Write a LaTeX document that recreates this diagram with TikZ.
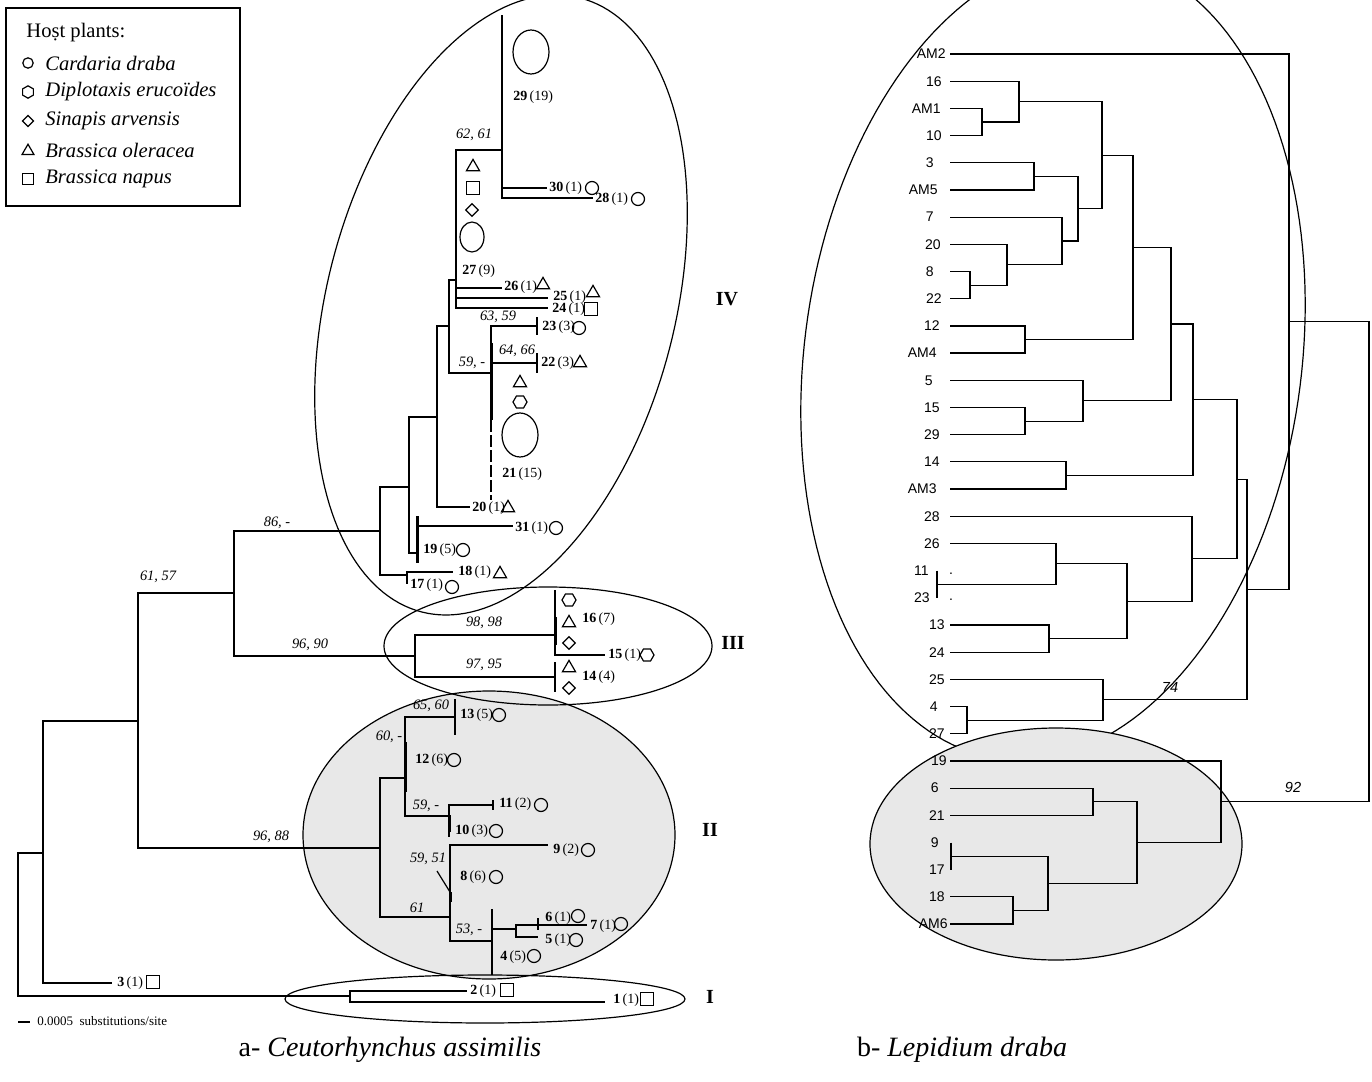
\documentclass[tikz,border=0pt]{standalone}
\usepackage{fontspec}
\setmainfont{Liberation Serif}
\newfontfamily\arialfont{Liberation Sans}
\usetikzlibrary{shapes.geometric}
\definecolor{cladegrey}{RGB}{232,232,232}
\newcommand{\hap}[2]{\textbf{#1}\,(#2)}

\begin{document}
\begin{tikzpicture}[
    x=0.5pt, y=-0.5pt,
    br/.style={line width=0.8pt},
    thk/.style={line width=1.5pt},
    rbr/.style={line width=0.6pt},
    lab/.style={anchor=west, inner sep=0pt, font=\fontsize{7}{8}\selectfont},
    boot/.style={inner sep=0pt, font=\fontsize{7.2}{8}\selectfont\itshape},
    clade/.style={inner sep=0pt, font=\fontsize{10}{12}\selectfont\bfseries},
    leaf/.style={anchor=east, inner sep=0pt, font=\arialfont\fontsize{7}{8}\selectfont},
    rboot/.style={inner sep=0pt, font=\arialfont\itshape\fontsize{7.3}{8}\selectfont},
    legtext/.style={anchor=west, inner sep=0pt, font=\fontsize{10.3}{12}\selectfont},
    cir/.style={circle, draw, line width=0.6pt, minimum size=6.5pt, inner sep=0pt},
    tri/.style={regular polygon, regular polygon sides=3, draw, line width=0.6pt, minimum size=7.6pt, inner sep=0pt},
    sqr/.style={rectangle, draw, line width=0.6pt, minimum size=6.3pt, inner sep=0pt},
    dia/.style={diamond, draw, line width=0.6pt, minimum size=6.5pt, inner sep=0pt},
    hex/.style={regular polygon, regular polygon sides=6, draw, line width=0.6pt, minimum size=7pt, inner sep=0pt},
    big/.style={ellipse, draw, line width=0.6pt, inner sep=0pt}
]
\useasboundingbox (0,0) rectangle (1372,1082);
\clip (0,0) rectangle (1372,1082);

% clade outlines
\draw[line width=0.6pt, variable=\t, domain=0:360, samples=181]
  plot ({1053+250*cos(\t)+33.4*sin(\t)}, {358-402*sin(\t)}) -- cycle;
\draw[line width=0.6pt, fill=cladegrey] (1056,844) ellipse [x radius=186, y radius=116];
\draw[line width=0.6pt, fill=cladegrey] (489,835) ellipse [x radius=186, y radius=144];
\draw[line width=0.6pt, variable=\t, domain=0:360, samples=181]
  plot ({501+178*cos(\t)+55*sin(\t)}, {305-310*sin(\t)}) -- cycle;
\draw[line width=0.6pt] (548,646) ellipse [x radius=164, y radius=59];
\draw[line width=0.6pt] (485,999) ellipse [x radius=200, y radius=24];

\node[clade] (cIVl) at (727,299) {IV};
\node[clade] (cIIIl) at (733,643) {III};
\node[clade] (cIIl) at (710,830) {II};
\node[clade] (cIl) at (710,997) {I};

% legend
\node[draw, line width=0.7pt, minimum width=117pt, minimum height=99pt, inner sep=0pt] (legend) at (123,107) {};
\node[legtext] (leghead) at (26,33) {Ho\d{s}t plants:};
\node[cir, minimum size=5.2pt] (lgc) at (28,63) {};
\node[hex, minimum size=6.2pt, rotate=90] (lgh) at (28,92) {};
\node[dia, minimum size=5.8pt] (lgd) at (28,121) {};
\node[tri, minimum size=6.8pt] (lgt) at (28,151) {};
\node[sqr, minimum size=5.5pt] (lgs) at (28,179) {};
\node[legtext] (legc) at (45,63) {\textit{Cardaria draba}};
\node[legtext] (legh) at (45,92) {\textit{Diplotaxis erucoïdes}};
\node[legtext] (legd) at (45,121) {\textit{Sinapis arvensis}};
\node[legtext] (legt) at (45,150) {\textit{Brassica oleracea}};
\node[legtext] (legs) at (45,179) {\textit{Brassica napus}};

% left tree: nodes
\coordinate (r0) at (18,924.5);
\coordinate (n1) at (43,853);
\coordinate (n2) at (138,721);
\coordinate (t3) at (112,983);
\coordinate (cI) at (350,996);
\coordinate (t2) at (467,991);
\coordinate (t1) at (605,1002);
\coordinate (n3) at (234,593);
\coordinate (cII) at (380,848);
\coordinate (cIV) at (380,531);
\coordinate (cIII) at (415,656);
\coordinate (c16) at (555,635);
\coordinate (t16) at (555,590);
\coordinate (c14) at (555,677);
\coordinate (t15) at (605,655);
\coordinate (a1) at (409,487);
\coordinate (a2) at (407,575);
\coordinate (t17) at (407,584);
\coordinate (t18) at (453,572);
\coordinate (a3) at (437,417);
\coordinate (a4) at (417,553);
\coordinate (t31) at (513,526);
\coordinate (a5) at (449,326);
\coordinate (t20) at (470,507);
\coordinate (a6) at (456,280);
\coordinate (a7) at (491,373);
\coordinate (t21a) at (491,420);
\coordinate (t21) at (491,500);
\coordinate (a8) at (502,150);
\coordinate (t29) at (502,15);
\coordinate (t26) at (502,288);
\coordinate (t25) at (548,298);
\coordinate (t24) at (548,308);
\coordinate (t30) at (547,188);
\coordinate (t28) at (593,198);
\coordinate (t23) at (537,326);
\coordinate (t22) at (537,363);
\coordinate (b1) at (405,778);
\coordinate (b2) at (450,917);
\coordinate (t13) at (455,717);
\coordinate (b3) at (449,816);
\coordinate (t10) at (449,837);
\coordinate (t11) at (493,805);
\coordinate (t9) at (548,845);
\coordinate (b4) at (492,941);
\coordinate (b5) at (516,929);
\coordinate (b6) at (538,925);
\coordinate (t7) at (587,925);
\coordinate (t5) at (538,937);
\coordinate (k8) at (450,892);

% left tree: branches
\draw[br] (r0) |- (n1) (r0) |- (cI) (n1) |- (n2) (n1) |- (t3)
  (cI) |- (t2) (cI) |- (t1)
  (n2) |- (n3) (n2) |- (cII) (n3) |- (cIV) (n3) |- (cIII)
  (cIII) |- (c16) (cIII) |- (c14) (c16) |- (t15) (c16) -- (t16)
  (cIV) |- (a1) (cIV) |- (a2) (a2) |- (t18) (a2) -- (t17)
  (a1) |- (a3) (a1) |- (a4) (a4) |- (t31)
  (a3) |- (a5) (a3) |- (t20) (a5) |- (a6) (a5) |- (a7)
  (a6) |- (a8) (a6) |- (t26) (a6) |- (t25) (a6) |- (t24)
  (a8) -- (t29) (a8) |- (t30) (a8) |- (t28)
  (a7) |- (t23) (a7) |- (t22) (a7) -- (t21a)
  (cII) |- (b1) (cII) |- (b2) (b1) |- (t13) (b1) |- (b3)
  (b3) |- (t11) (b3) -- (t10)
  (b2) |- (t9) (b2) |- (b4) (b4) |- (b5) (b5) |- (b6) (b5) |- (t5) (b6) -- (t7);
\draw[br, dash pattern=on 6pt off 1.5pt] (t21a) -- (t21);
\draw[br] (t23) ++(0,-9) -- ++(0,18);
\draw[br] (t22) ++(0,-10) -- ++(0,20);
\draw[br] (c14) ++(0,-15) -- ++(0,30);
\draw[br] (t13) ++(0,-18) -- ++(0,36);
\draw[br] (t11) ++(0,-5) -- ++(0,10);
\draw[br] (b4) ++(0,-32) -- ++(0,66);
\draw[br] (b6) ++(0,-7) -- ++(0,12);
\draw[thk] (555,617) -- (555,645);
\draw[thk] (417,516) -- (417,563);
\draw[thk] (405,742) -- (405,792);
\draw[thk] (449,815) -- (449,832);
\draw[thk] (450,892) -- (450,902);
\draw[thk] (491,343) -- (491,420);
\draw[line width=1.2pt] (456,205) -- (456,280);
\draw[line width=0.6pt] (437,871) -- (k8);

% scale bar
\coordinate (sb0) at (18,1022);
\coordinate (sb1) at (30,1022);
\draw[line width=1.2pt] (sb0) -- (sb1);
\node[anchor=west, inner sep=0pt, font=\fontsize{6.5}{8}\selectfont] (sbl) at (37,1021) {0.0005~~substitutions/site};

% bootstrap values
\node[boot] (bs1) at (474,135) {62, 61};
\node[boot] (bs2) at (498,317) {63, 59};
\node[boot] (bs3) at (517,351) {64, 66};
\node[boot] (bs4) at (472,363) {59, -};
\node[boot] (bs5) at (277,523) {86, -};
\node[boot] (bs6) at (158,577) {61, 57};
\node[boot] (bs7) at (484,623) {98, 98};
\node[boot] (bs8) at (310,645) {96, 90};
\node[boot] (bs9) at (484,665) {97, 95};
\node[boot] (bs10) at (431,706) {65, 60};
\node[boot] (bs11) at (389,737) {60, -};
\node[boot] (bs12) at (426,806) {59, -};
\node[boot] (bs13) at (271,837) {96, 88};
\node[boot] (bs14) at (428,859) {59, 51};
\node[boot] (bs15) at (417,908) {61};
\node[boot] (bs16) at (469,930) {53, -};

% haplotypes and host symbols
\node[big, minimum width=18pt, minimum height=22pt] (s29) at (531,52) {};
\node[lab] (l29) at (513,97) {\hap{29}{19}};
\node[lab] (l30) at (549,188) {\hap{30}{1}};
\node[cir] (s30) at (592,188) {};
\node[lab] (l28) at (595,199) {\hap{28}{1}};
\node[cir] (s28) at (638,199) {};
\node[tri] (s27a) at (473,167) {};
\node[sqr] (s27b) at (473,188) {};
\node[dia] (s27c) at (472,210) {};
\node[big, minimum width=12pt, minimum height=15pt] (s27d) at (472,237) {};
\node[lab] (l27) at (462,271) {\hap{27}{9}};
\node[lab] (l26) at (504,287) {\hap{26}{1}};
\node[tri] (s26) at (543,285) {};
\node[lab] (l25) at (553,297) {\hap{25}{1}};
\node[tri] (s25) at (593,293) {};
\node[lab] (l24) at (552,309) {\hap{24}{1}};
\node[sqr] (s24) at (591,309) {};
\node[lab] (l23) at (542,327) {\hap{23}{3}};
\node[cir] (s23) at (579,328) {};
\node[lab] (l22) at (541,363) {\hap{22}{3}};
\node[tri] (s22) at (580,363) {};
\node[tri] (s21a) at (520,383) {};
\node[hex] (s21b) at (520,402) {};
\node[big, minimum width=18pt, minimum height=22pt] (s21c) at (520,435) {};
\node[lab] (l21) at (502,474) {\hap{21}{15}};
\node[lab] (l20) at (472,508) {\hap{20}{1}};
\node[tri] (s20) at (508,508) {};
\node[lab] (l31) at (515,528) {\hap{31}{1}};
\node[cir] (s31) at (556,528) {};
\node[lab] (l19) at (423,550) {\hap{19}{5}};
\node[cir] (s19) at (463,550) {};
\node[lab] (l18) at (458,572) {\hap{18}{1}};
\node[tri] (s18) at (500,574) {};
\node[lab] (l17) at (410,585) {\hap{17}{1}};
\node[cir] (s17) at (452,587) {};
\node[hex] (s16a) at (569,600) {};
\node[tri] (s16b) at (569,623) {};
\node[dia] (s16c) at (569,643) {};
\node[lab] (l16) at (582,619) {\hap{16}{7}};
\node[lab] (l15) at (608,655) {\hap{15}{1}};
\node[hex] (s15) at (647,655) {};
\node[tri] (s14a) at (569,668) {};
\node[dia] (s14b) at (569,688) {};
\node[lab] (l14) at (582,677) {\hap{14}{4}};
\node[lab] (l13) at (460,715) {\hap{13}{5}};
\node[cir] (s13) at (499,715) {};
\node[lab] (l12) at (415,760) {\hap{12}{6}};
\node[cir] (s12) at (454,760) {};
\node[lab] (l11) at (499,804) {\hap{11}{2}};
\node[cir] (s11) at (541,805) {};
\node[lab] (l10) at (455,831) {\hap{10}{3}};
\node[cir] (s10) at (496,831) {};
\node[lab] (l9) at (553,850) {\hap{9}{2}};
\node[cir] (s9) at (588,850) {};
\node[lab] (l8) at (460,877) {\hap{8}{6}};
\node[cir] (s8) at (496,877) {};
\node[lab] (l6) at (545,918) {\hap{6}{1}};
\node[cir] (s6) at (578,916) {};
\node[lab] (l7) at (590,926) {\hap{7}{1}};
\node[cir] (s7) at (621,924) {};
\node[lab] (l5) at (545,940) {\hap{5}{1}};
\node[cir] (s5) at (576,940) {};
\node[lab] (l4) at (500,957) {\hap{4}{5}};
\node[cir] (s4) at (534,956) {};
\node[lab] (l3) at (117,983) {\hap{3}{1}};
\node[sqr] (s3) at (153,982) {};
\node[lab] (l2) at (470,991) {\hap{2}{1}};
\node[sqr] (s2) at (507,990) {};
\node[lab] (l1) at (613,1000) {\hap{1}{1}};
\node[sqr] (s1) at (647,999) {};

% right tree: leaves
\foreach \nm/\lx [count=\i from 0] in {AM2/946, 16/942, AM1/941, 10/942, 3/934, AM5/938, 7/934,
    20/941, 8/934, 22/942, 12/940, AM4/937, 5/933, 15/940, 29/940, 14/940, AM3/937, 28/940,
    26/940, 11/929, 23/930, 13/945, 24/945, 25/945, 4/938, 27/945, 19/947, 6/939, 21/945,
    9/939, 17/945, 18/945, AM6/948} {
  \coordinate (r\nm) at (950,54+27.19*\i);
  \node[leaf] (t\nm) at (\lx,54+27.19*\i) {\nm};
}
\coordinate (q1123) at (937,584.2);
\coordinate (q917) at (951,856.1);
\coordinate (p1) at (982,122);
\coordinate (p2) at (1019,101.6);
\coordinate (p3) at (1034,176.4);
\coordinate (p4) at (970,285.1);
\coordinate (p5) at (1007,264.7);
\coordinate (p6) at (1062,240.9);
\coordinate (p7) at (1078,208.7);
\coordinate (p8) at (1102,155.1);
\coordinate (p9) at (1025,339.5);
\coordinate (p10) at (1133,247.3);
\coordinate (p11) at (1025,421.1);
\coordinate (p12) at (1083,400.7);
\coordinate (p13) at (1171,324);
\coordinate (p14) at (1066,475.5);
\coordinate (p15) at (1193,399.7);
\coordinate (p16) at (1056,563.8);
\coordinate (p17) at (1049,638.6);
\coordinate (p18) at (1127,601.2);
\coordinate (p19) at (1192,558.7);
\coordinate (p20) at (1237,479.2);
\coordinate (p21) at (967,720.2);
\coordinate (p22) at (1103,699.8);
\coordinate (p23) at (1247,589.5);
\coordinate (p24) at (1289,321.8);
\coordinate (p25) at (1093,801.7);
\coordinate (p26) at (1013,910.5);
\coordinate (p27) at (1048,883.3);
\coordinate (p28) at (1137,842.5);
\coordinate (p29) at (1221,801.7);
\coordinate (p30) at (1369,561.8);

\draw[rbr] (p1) |- (rAM1) (p1) |- (r10) (p2) |- (r16) (p2) |- (p1)
  (p3) |- (r3) (p3) |- (rAM5) (p4) |- (r8) (p4) |- (r22)
  (p5) |- (r20) (p5) |- (p4) (p6) |- (r7) (p6) |- (p5)
  (p7) |- (p3) (p7) |- (p6) (p8) |- (p2) (p8) |- (p7)
  (p9) |- (r12) (p9) |- (rAM4) (p10) |- (p8) (p10) |- (p9)
  (p11) |- (r15) (p11) |- (r29) (p12) |- (r5) (p12) |- (p11)
  (p13) |- (p10) (p13) |- (p12) (p14) |- (r14) (p14) |- (rAM3)
  (p15) |- (p13) (p15) |- (p14)
  (p16) |- (r26) (p16) |- (q1123) (p17) |- (r13) (p17) |- (r24)
  (p18) |- (p16) (p18) |- (p17) (p19) |- (r28) (p19) |- (p18)
  (p20) |- (p15) (p20) |- (p19)
  (p21) |- (r4) (p21) |- (r27) (p22) |- (r25) (p22) |- (p21)
  (p23) |- (p20) (p23) |- (p22) (p24) |- (rAM2) (p24) |- (p23)
  (p25) |- (r6) (p25) |- (r21) (p26) |- (r18) (p26) |- (rAM6)
  (p27) |- (q917) (p27) |- (p26) (p28) |- (p25) (p28) |- (p27)
  (p29) |- (r19) (p29) |- (p28) (p30) |- (p24) (p30) |- (p29);
\draw[rbr] (q1123) ++(0,-13.6) -- ++(0,27.2);
\draw[rbr] (q917) ++(0,-13.6) -- ++(0,27.2);
\node[leaf, anchor=center] (dot11) at (951,574) {.};
\node[leaf, anchor=center] (dot23) at (951,600) {.};
\node[rboot] (rb74) at (1170,687) {74};
\node[rboot] (rb92) at (1293,787) {92};

% captions
\node[font=\fontsize{14}{16}\selectfont] (capa) at (390,1050) {a- \textit{Ceutorhynchus assimilis}};
\node[font=\fontsize{14}{16}\selectfont] (capb) at (962,1050) {b- \textit{Lepidium draba}};
\end{tikzpicture}
\end{document}
